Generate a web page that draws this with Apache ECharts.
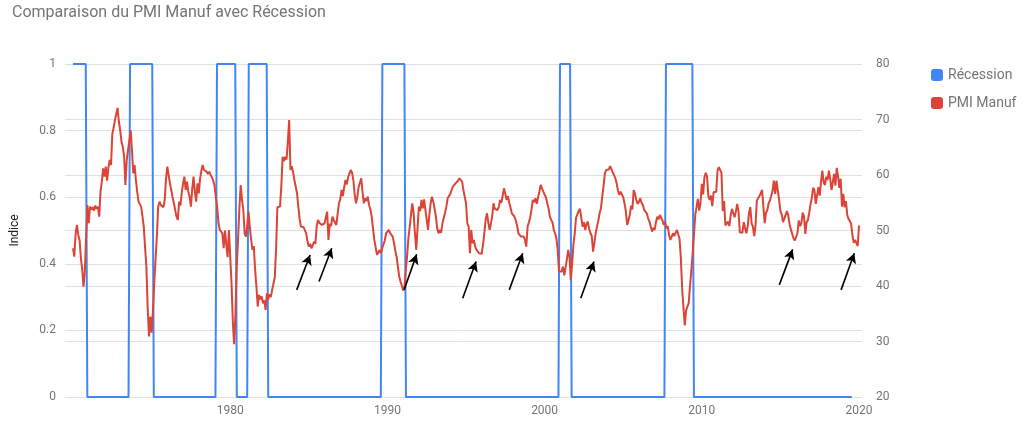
<!DOCTYPE html>
<html>
<head>
<meta charset="utf-8">
<script src="https://cdn.jsdelivr.net/npm/echarts@6/dist/echarts.min.js"></script>
<style>
  html, body { margin: 0; padding: 0; background: #fff; }
  #chart { width: 1024px; height: 425px; }
</style>
</head>
<body>
<div id="chart"></div>
<script>
// ---------------- DATA ----------------
const titleText = 'Comparaison du PMI Manuf avec Récession';
const seriesNames = ['Récession', 'PMI Manuf'];
const xTickLabels = [1980, 1990, 2000, 2010, 2020];
const firstYear = 1970; // PMI monthly series starts January 1970

// ISM manufacturing PMI, monthly (Jan..Dec per row)
const pmi1970s = [
  46.8, 45.3, 49.5, 51.0, 49.2, 48.3, 45.0, 43.1, 39.9, 42.5, 48.9, 54.6,
  51.3, 54.3, 53.8, 54.2, 53.6, 54.5, 53.9, 54.3, 52.5, 57.0, 58.8, 61.2,
  59.7, 61.5, 59.0, 61.3, 62.7, 61.8, 67.4, 68.5, 69.9, 71.0, 72.1, 69.6,
  68.1, 66.0, 65.1, 63.3, 58.2, 62.7, 64.5, 66.2, 68.1, 64.5, 60.3, 61.8,
  59.1, 57.0, 55.2, 55.0, 54.3, 52.6, 50.7, 47.0, 43.5, 36.0, 30.9, 34.5,
  31.6, 35.5, 40.5, 44.8, 48.9, 54.3, 55.2, 54.6, 54.9, 54.2, 55.5, 59.4,
  61.5, 60.0, 58.5, 57.3, 56.0, 54.9, 53.7, 52.5, 51.9, 55.2, 54.5, 56.8,
  58.5, 59.7, 57.3, 58.8, 57.0, 56.1, 54.3, 57.5, 59.7, 57.0, 55.2, 58.5,
  56.7, 59.4, 60.8, 61.8, 60.9, 61.2, 60.6, 60.2, 60.6, 60.0, 59.6, 59.0,
  58.1, 56.1, 54.3, 51.5, 50.1, 49.8, 49.5, 46.8, 50.0, 47.5, 45.2, 50.1
];
const pmi1980s = [
  45.3, 40.5, 33.5, 29.5, 35.0, 43.5, 48.5, 54.0, 58.2, 55.5, 53.7, 49.5,
  48.9, 51.0, 53.4, 50.5, 48.3, 46.5, 47.2, 43.0, 39.9, 36.3, 38.4, 37.6,
  38.1, 36.9, 37.4, 35.7, 38.7, 37.6, 38.5, 38.0, 39.3, 39.0, 41.5, 46.5,
  54.2, 54.0, 54.3, 57.9, 63.3, 62.5, 63.3, 62.8, 66.0, 69.9, 60.9, 61.6,
  60.5, 59.1, 59.4, 56.7, 54.3, 52.0, 50.7, 50.6, 50.6, 50.4, 49.5, 48.0,
  47.1, 47.6, 46.8, 47.3, 48.0, 47.6, 50.7, 51.9, 51.4, 51.6, 51.0, 51.3,
  51.3, 51.0, 53.4, 48.3, 51.2, 50.8, 52.5, 51.9, 51.4, 51.0, 53.0, 54.9,
  55.6, 57.3, 56.2, 57.8, 59.1, 58.3, 59.6, 60.3, 60.9, 60.4, 59.1, 56.5,
  54.9, 56.0, 57.8, 58.6, 59.4, 57.0, 54.9, 55.8, 55.3, 56.1, 54.6, 53.8,
  52.5, 50.4, 48.3, 47.0, 45.6, 45.3, 46.5, 45.9, 46.8, 47.1, 48.2, 49.5
];
const pmi1990s = [
  49.8, 50.1, 49.6, 49.4, 48.9, 47.8, 46.4, 45.3, 43.5, 41.7, 40.8, 40.1,
  39.2, 39.8, 42.8, 45.3, 48.6, 50.6, 52.9, 54.9, 53.1, 49.5, 46.5, 50.4,
  54.3, 53.5, 55.5, 54.0, 55.6, 53.7, 51.9, 50.1, 52.8, 54.9, 56.1, 55.2,
  54.0, 52.5, 50.4, 49.5, 50.1, 49.6, 51.3, 51.0, 53.2, 54.3, 55.8, 56.1,
  56.6, 57.3, 57.9, 58.1, 58.5, 58.8, 59.0, 59.4, 59.7, 58.8, 57.3, 56.1,
  54.9, 51.3, 50.7, 45.9, 50.1, 47.7, 48.3, 47.1, 46.5, 46.8, 45.9, 45.6,
  45.8, 47.5, 49.5, 52.0, 53.1, 51.5, 50.1, 51.2, 52.6, 54.9, 53.9, 53.7,
  53.7, 54.2, 55.5, 55.0, 56.3, 57.6, 56.6, 55.5, 56.2, 55.0, 54.1, 53.1,
  52.9, 52.5, 51.8, 50.9, 49.5, 49.8, 48.9, 49.2, 48.9, 48.3, 47.1, 50.7,
  51.5, 52.4, 53.8, 55.5, 55.1, 55.8, 54.8, 56.0, 57.0, 58.2, 57.6, 57.0
];
const pmi2000s = [
  56.7, 56.0, 54.9, 54.0, 52.5, 51.9, 51.5, 50.1, 49.5, 48.6, 46.5, 42.6,
  42.3, 42.6, 43.5, 41.9, 43.3, 44.8, 46.5, 45.2, 41.1, 44.0, 47.5, 49.5,
  52.3, 52.5, 53.5, 53.9, 54.0, 50.7, 51.5, 50.1, 51.2, 51.6, 50.3, 49.5,
  49.0, 46.2, 47.8, 49.5, 50.7, 51.8, 53.1, 54.0, 56.1, 58.0, 60.3, 60.9,
  60.6, 61.0, 61.6, 61.3, 60.5, 60.0, 59.4, 58.5, 57.2, 56.4, 57.0, 57.3,
  56.0, 54.9, 53.5, 51.0, 51.8, 52.8, 54.5, 53.8, 57.3, 56.6, 55.5, 54.8,
  55.2, 55.8, 55.0, 54.6, 53.7, 53.9, 53.1, 52.2, 51.6, 50.7, 49.8, 50.5,
  50.1, 51.5, 52.5, 52.0, 52.8, 52.3, 51.8, 51.0, 51.6, 50.4, 50.8, 49.2,
  48.3, 48.9, 49.5, 49.0, 49.6, 50.1, 49.8, 48.5, 45.0, 39.5, 36.0, 32.9,
  35.6, 36.3, 36.9, 40.1, 42.8, 45.8, 49.2, 52.8, 52.6, 55.7, 53.6, 54.9
];
const pmi2010s = [
  58.4, 56.5, 59.6, 60.4, 59.7, 56.2, 55.5, 56.3, 54.4, 56.9, 56.6, 57.0,
  60.8, 61.4, 61.2, 60.4, 53.5, 55.3, 50.9, 50.6, 51.6, 50.8, 52.7, 53.9,
  54.1, 52.4, 53.4, 54.8, 53.5, 49.7, 49.8, 49.6, 51.5, 51.7, 49.5, 50.7,
  53.1, 54.2, 51.3, 50.7, 49.0, 50.9, 55.4, 55.7, 56.2, 56.4, 57.3, 57.0,
  51.3, 53.2, 53.7, 54.9, 55.4, 55.3, 57.1, 59.0, 56.6, 59.0, 58.7, 55.5,
  53.5, 52.9, 51.5, 51.5, 52.8, 53.5, 52.7, 51.1, 50.2, 50.1, 48.6, 48.2,
  48.2, 49.5, 51.8, 50.8, 51.3, 53.2, 52.6, 49.4, 51.5, 51.9, 53.2, 54.7,
  56.0, 57.7, 57.2, 54.8, 54.9, 57.8, 56.3, 58.8, 60.8, 58.7, 58.2, 59.7,
  59.1, 60.8, 59.3, 57.3, 58.7, 60.2, 58.1, 61.3, 59.8, 57.7, 59.3, 54.3,
  56.6, 54.2, 55.3, 52.8, 52.1, 51.7, 51.2, 49.1, 47.8, 48.3, 48.1, 47.2
];
const pmi2020 = [50.9];

// Recession indicator (as drawn): periods at 1, in fractional years
const recStart = [1970.00, 1973.63, 1979.16, 1981.18, 1989.68, 2000.98, 2007.72];
const recEnd   = [1970.81, 1975.04, 1980.32, 1982.32, 1991.08, 2001.62, 2009.40];
const recStep  = 0.1;      // one sample between 1 and 0
const recFirst = 1970.00;
const recLast  = 2019.54;

// Annotation arrows (year, PMI value): tail -> head
const arrowX0 = [1984.23, 1985.65, 1991.06, 1994.79, 1997.75, 2002.30, 2014.93, 2018.86];
const arrowY0 = [39.3, 40.8, 39.3, 37.8, 39.3, 37.8, 40.2, 39.3];
const arrowX1 = [1985.08, 1986.46, 1991.86, 1995.64, 1998.61, 2003.14, 2015.78, 2019.70];
const arrowY1 = [45.6, 46.8, 45.7, 44.4, 45.9, 44.4, 46.6, 45.9];

// ---------------- BUILD ----------------
const pmi = [].concat(pmi1970s, pmi1980s, pmi1990s, pmi2000s, pmi2010s, pmi2020);
const pmiData = pmi.map((v, i) => [firstYear + i / 12, v]);

const recData = [];
for (let i = 0; i < recStart.length; i++) {
  if (recStart[i] > recFirst) recData.push([recStart[i] - recStep, 0]);
  recData.push([recStart[i], 1], [recEnd[i], 1], [recEnd[i] + recStep, 0]);
}
recData.push([recLast, 0]);

const arrows = arrowX0.map((x, i) => [
  { coord: [x, arrowY0[i]] },
  { coord: [arrowX1[i], arrowY1[i]] }
]);

const gray = '#757575';
const gridColor = '#e0e0e0';

const chart = echarts.init(document.getElementById('chart'), null, { renderer: 'canvas' });
chart.setOption({
  animation: false,
  backgroundColor: '#fff',
  textStyle: { fontFamily: 'Roboto, Arial, sans-serif' },
  title: {
    text: titleText,
    left: 7, top: 0,
    textStyle: { color: gray, fontSize: 16, fontWeight: 'normal', fontFamily: 'Roboto, Arial, sans-serif' }
  },
  legend: {
    orient: 'vertical',
    left: 926, top: 63,
    itemWidth: 12, itemHeight: 12, itemGap: 14,
    icon: 'roundRect',
    textStyle: { color: gray, fontSize: 14 },
    data: seriesNames
  },
  grid: { left: 65, right: 162, top: 64, bottom: 28, containLabel: false, outerBoundsMode: 'none' },
  xAxis: {
    type: 'value',
    min: 1969.49, max: 2020.19,
    axisLine: { show: false },
    axisTick: { show: false },
    splitLine: { show: false },
    axisLabel: {
      customValues: xTickLabels,
      color: gray, fontSize: 12, margin: 8,
      formatter: v => String(Math.round(v))
    }
  },
  yAxis: [
    {
      type: 'value', min: 0, max: 1, interval: 0.2,
      name: 'Indice', nameLocation: 'middle', nameGap: 44,
      nameTextStyle: { color: '#222', fontSize: 12 },
      axisLine: { show: false }, axisTick: { show: false },
      axisLabel: { color: gray, fontSize: 12, margin: 9 },
      splitLine: { lineStyle: { color: gridColor, width: 1 } }
    },
    {
      type: 'value', min: 20, max: 80, interval: 10, position: 'right',
      axisLine: { show: false }, axisTick: { show: false },
      axisLabel: { color: gray, fontSize: 12, margin: 14 },
      splitLine: { lineStyle: { color: gridColor, width: 1 } }
    }
  ],
  series: [
    {
      name: seriesNames[0], type: 'line', yAxisIndex: 0,
      data: recData, showSymbol: false, symbol: 'none',
      color: '#4285F4',
      lineStyle: { color: '#4285F4', width: 2 },
      z: 2
    },
    {
      name: seriesNames[1], type: 'line', yAxisIndex: 1,
      data: pmiData, showSymbol: false, symbol: 'none',
      color: '#DB4437',
      lineStyle: { color: '#DB4437', width: 2 },
      z: 3,
      markLine: {
        silent: true,
        symbol: ['none', 'arrow'],
        symbolSize: [8, 10],
        label: { show: false },
        emphasis: { disabled: true },
        lineStyle: { color: '#000', width: 1.6, type: 'solid' },
        data: arrows
      }
    }
  ]
});
</script>
</body>
</html>
